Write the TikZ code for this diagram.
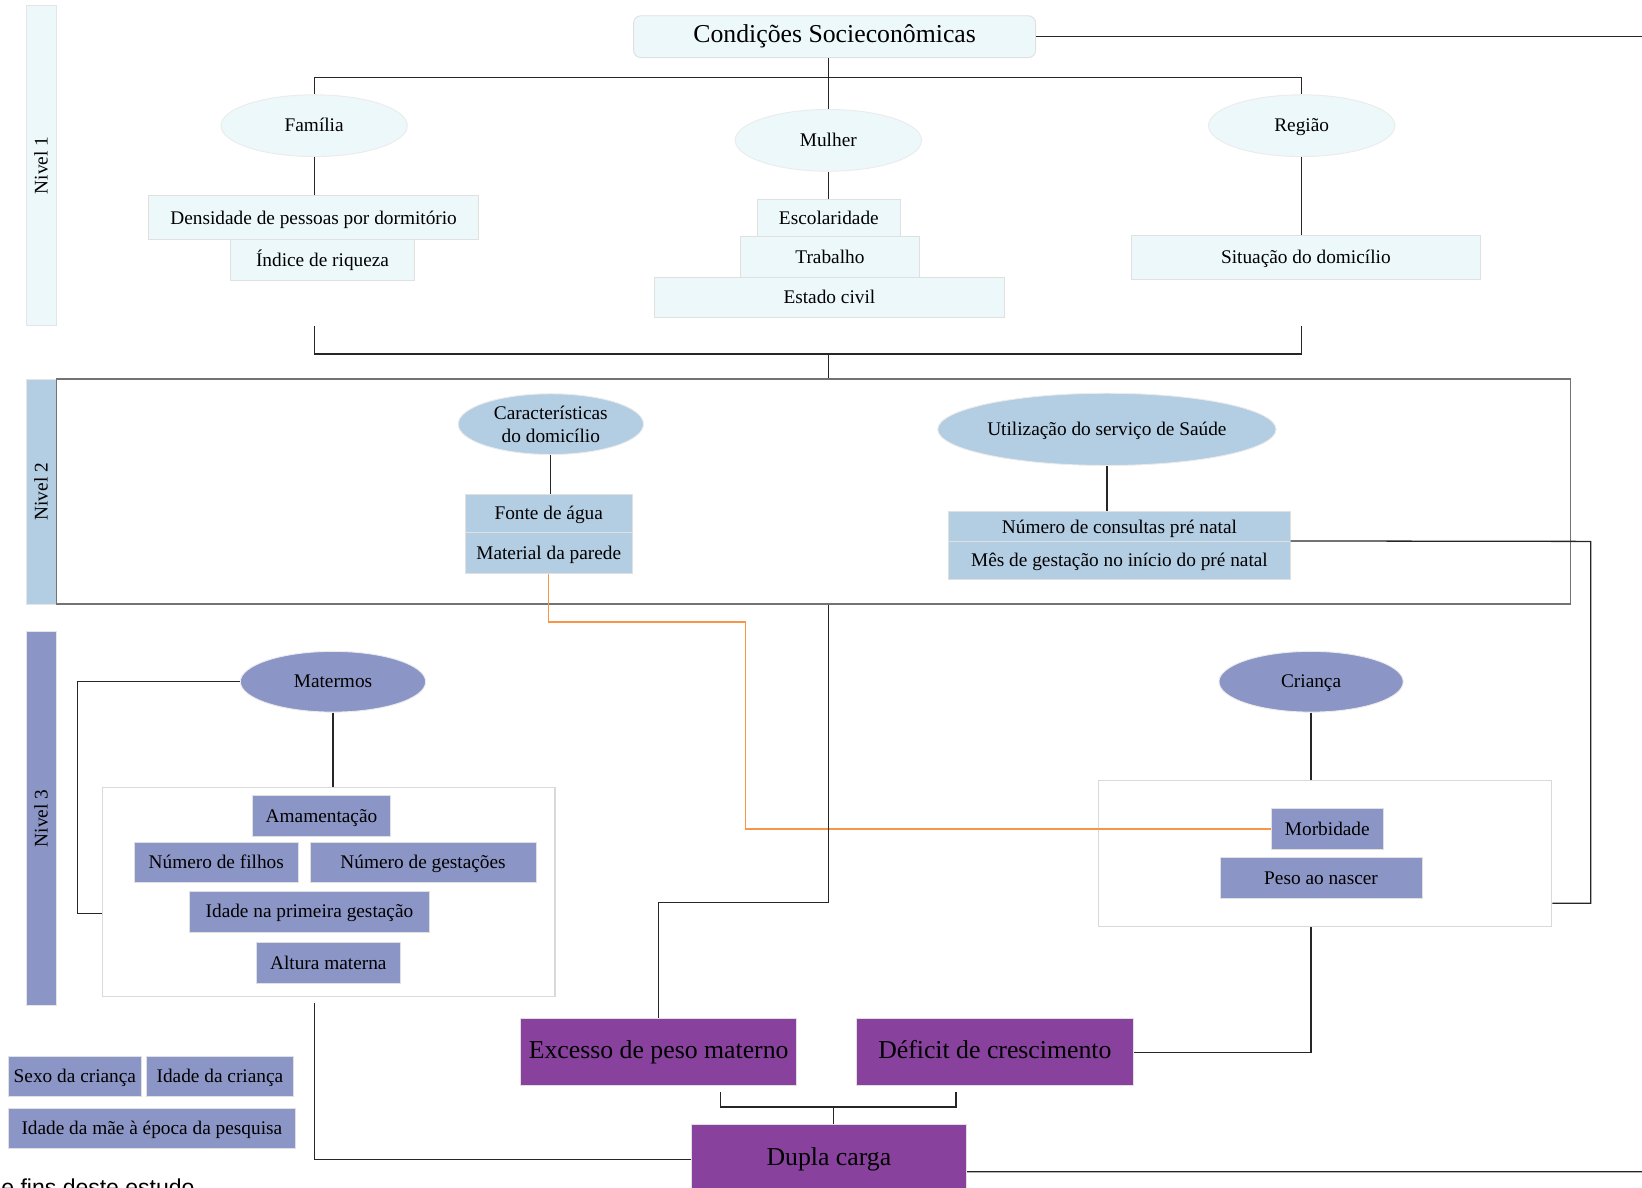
\documentclass[tikz,border=0pt]{standalone}
\usepackage{fontspec}
\setmainfont{Liberation Serif}
\newfontfamily\capfont{Liberation Sans}
\usetikzlibrary{shapes.geometric}
\definecolor{buA}{HTML}{EDF8FB}
\definecolor{buB}{HTML}{B3CDE3}
\definecolor{buC}{HTML}{8C96C6}
\definecolor{buD}{HTML}{88419D}
\definecolor{laranja}{HTML}{F79646}
\definecolor{linha}{HTML}{262626}
\tikzset{
  texto/.style={font=\fontsize{10.5}{12.6}\selectfont,text height=0.9em,text depth=0.22em},
  grande/.style={font=\fontsize{14}{16.8}\selectfont,text height=0.9em,text depth=0.22em},
  caixa/.style={rectangle,inner sep=0pt,fill=#1,draw=black!12,line width=0.5pt,texto},
  elipse/.style={ellipse,inner sep=0pt,fill=#1,draw=black!8,line width=0.5pt,texto},
  nivel/.style={rectangle,inner sep=0pt,fill=#1,draw=black!10,rotate=90,minimum height=0.58cm,texto},
  grupo/.style={rectangle,inner sep=0pt,fill=white,draw=black!15,line width=0.6pt},
  liga/.style={draw=linha,line width=0.7pt}
}
\begin{document}
\begin{tikzpicture}[x=0.02cm,y=-0.02cm]
\useasboundingbox (0,0) rectangle (1568,1134);
\clip (0,0) rectangle (1568,1134);
% nivel 1
\node[nivel=buA,minimum width=6.12cm] (n1) at (39.5,158) {Nivel 1};
\node[caixa=buA,grande,rounded corners=4pt,minimum width=7.68cm,minimum height=0.8cm] (cond) at (797,35) {Condições Socieconômicas};
\node[elipse=buA,minimum width=3.56cm,minimum height=1.18cm] (fam) at (300,120) {Família};
\node[elipse=buA,minimum width=3.56cm,minimum height=1.18cm] (mul) at (791,134) {Mulher};
\node[elipse=buA,minimum width=3.56cm,minimum height=1.18cm] (reg) at (1243,120) {Região};
\node[caixa=buA,minimum width=6.3cm,minimum height=0.84cm] (dens) at (299.5,208) {Densidade de pessoas por dormitório};
\node[caixa=buA,minimum width=3.52cm,minimum height=0.78cm] (ind) at (308,248.5) {Índice de riqueza};
\node[caixa=buA,minimum width=2.74cm,minimum height=0.72cm] (esc) at (791.5,208) {Escolaridade};
\node[caixa=buA,minimum width=3.42cm,minimum height=0.78cm] (trab) at (792.5,245.5) {Trabalho};
\node[caixa=buA,minimum width=6.68cm,minimum height=0.76cm] (civil) at (792,284) {Estado civil};
\node[caixa=buA,minimum width=6.68cm,minimum height=0.84cm] (sit) at (1247,246) {Situação do domicílio};
\coordinate (topo) at (791,74);
\draw[liga] (cond.south -| topo) -- (mul.north);
\draw[liga] (fam.north) |- (topo) -| (reg.north);
\draw[liga] (fam.south) -- (fam.south |- dens.north);
\draw[liga] (mul.south) -- (mul.south |- esc.north);
\draw[liga] (reg.south) -- (reg.south |- sit.north);
\coordinate (saidaA) at (1568,35);
\draw[liga] (cond.east) -- (saidaA);
% nivel 2
\node[nivel=buB,minimum width=4.3cm] (n2) at (39.5,469.5) {Nivel 2};
\node[draw=black!55,line width=0.8pt,inner sep=0pt,minimum width=28.92cm,minimum height=4.3cm] (quadro) at (777,469.5) {};
\coordinate (fimA) at (300,311);
\coordinate (fimB) at (1243,311);
\coordinate (base) at (791,338);
\draw[liga] (fimA) |- (base) -| (fimB);
\draw[liga] (base) -- (base |- quadro.north);
\node[elipse=buB,text height=,text depth=,minimum width=3.54cm,minimum height=1.16cm,align=center] (carac) at (526,405) {Características\\do domicílio};
\node[caixa=buB,minimum width=3.2cm,minimum height=0.72cm] (agua) at (524,490) {Fonte de água};
\node[caixa=buB,minimum width=3.2cm,minimum height=0.8cm] (parede) at (524,528) {Material da parede};
\node[elipse=buB,minimum width=6.3cm,minimum height=1.38cm] (saude) at (1057,410) {Utilização do serviço de Saúde};
\node[caixa=buB,minimum width=6.52cm,minimum height=0.6cm] (consultas) at (1069,503) {Número de consultas pré natal};
\node[caixa=buB,minimum width=6.52cm,minimum height=0.72cm] (mes) at (1069,535) {Mês de gestação no início do pré natal};
\draw[liga] (carac.south) -- (carac.south |- agua.north);
\draw[liga] (saude.south) -- (saude.south |- consultas.north);
% nivel 3
\node[nivel=buC,minimum width=7.14cm] (n3) at (39.5,781.5) {Nivel 3};
\node[grupo,minimum width=8.64cm,minimum height=4cm] (gmae) at (314,852) {};
\node[elipse=buC,minimum width=3.54cm,minimum height=1.16cm] (materno) at (318,651) {Matermos};
\node[caixa=buC,minimum width=2.64cm,minimum height=0.78cm] (amam) at (307,779.5) {Amamentação};
\node[caixa=buC,minimum width=3.14cm,minimum height=0.78cm] (filhos) at (206.5,823.5) {Número de filhos};
\node[caixa=buC,minimum width=4.32cm,minimum height=0.78cm] (gestacoes) at (404,823.5) {Número de gestações};
\node[caixa=buC,minimum width=4.58cm,minimum height=0.78cm] (primeira) at (295.5,870.5) {Idade na primeira gestação};
\node[caixa=buC,minimum width=2.74cm,minimum height=0.78cm] (altura) at (313.5,919.5) {Altura materna};
\node[grupo,minimum width=8.66cm,minimum height=2.8cm] (gcrianca) at (1265.5,815) {};
\node[elipse=buC,minimum width=3.52cm,minimum height=1.16cm] (crianca) at (1252,651) {Criança};
\node[caixa=buC,minimum width=2.14cm,minimum height=0.78cm] (morb) at (1267.5,791.5) {Morbidade};
\node[caixa=buC,minimum width=3.86cm,minimum height=0.78cm] (peso) at (1261.5,838.5) {Peso ao nascer};
\coordinate (esq) at (74,651);
\draw[liga] (materno.west) -- (esq) |- ([yshift=-0.4cm]gmae.west);
\draw[liga] (materno.south) -- (materno.south |- gmae.north);
\draw[liga] (crianca.south) -- (crianca.south |- gcrianca.north);
\coordinate (dir) at (1519,517);
\draw[liga] (mes.north east) -- (dir) |- ([yshift=0.46cm]gcrianca.south east);
\coordinate (lar) at (712,594);
\draw[laranja,line width=0.8pt] (parede.south) |- (lar) |- (morb.west);
% desfechos
\node[caixa=buD,grande,minimum width=5.28cm,minimum height=1.28cm] (excesso) at (629,1005) {Excesso de peso materno};
\node[caixa=buD,grande,minimum width=5.28cm,minimum height=1.28cm] (deficit) at (950,1005) {Déficit de crescimento};
\node[caixa=buD,grande,minimum width=5.26cm,minimum height=1.32cm] (dupla) at (791.5,1107) {Dupla carga};
\coordinate (meio) at (791,862);
\draw[liga] (meio |- quadro.south) -- (meio) -| (excesso.north);
\draw[liga] (crianca.south |- gcrianca.south) |- (deficit.east);
\coordinate (chA) at (688,1043);
\coordinate (chB) at (913,1043);
\coordinate (chM) at (796,1057);
\draw[liga] (chA) |- (chM) -| (chB);
\draw[liga] (chM) -- (chM |- dupla.north);
\coordinate (volta) at (300,958);
\draw[liga] (dupla.west) -| (volta);
\coordinate (saidaB) at (1568,1119);
\draw[liga] ([yshift=-0.24cm]dupla.east) -- (saidaB);
% controles
\node[caixa=buC,minimum width=2.54cm,minimum height=0.76cm] (sexo) at (71.5,1028) {Sexo da criança};
\node[caixa=buC,minimum width=2.8cm,minimum height=0.76cm] (idadec) at (210,1028) {Idade da criança};
\node[caixa=buC,minimum width=5.48cm,minimum height=0.78cm] (idadem) at (145,1077.5) {Idade da mãe à época da pesquisa};
\node[anchor=base west,inner sep=0pt,font=\capfont\fontsize{12.5}{15}\selectfont] (legenda) at (1,1142) {e fins deste estudo};
\end{tikzpicture}
\end{document}
